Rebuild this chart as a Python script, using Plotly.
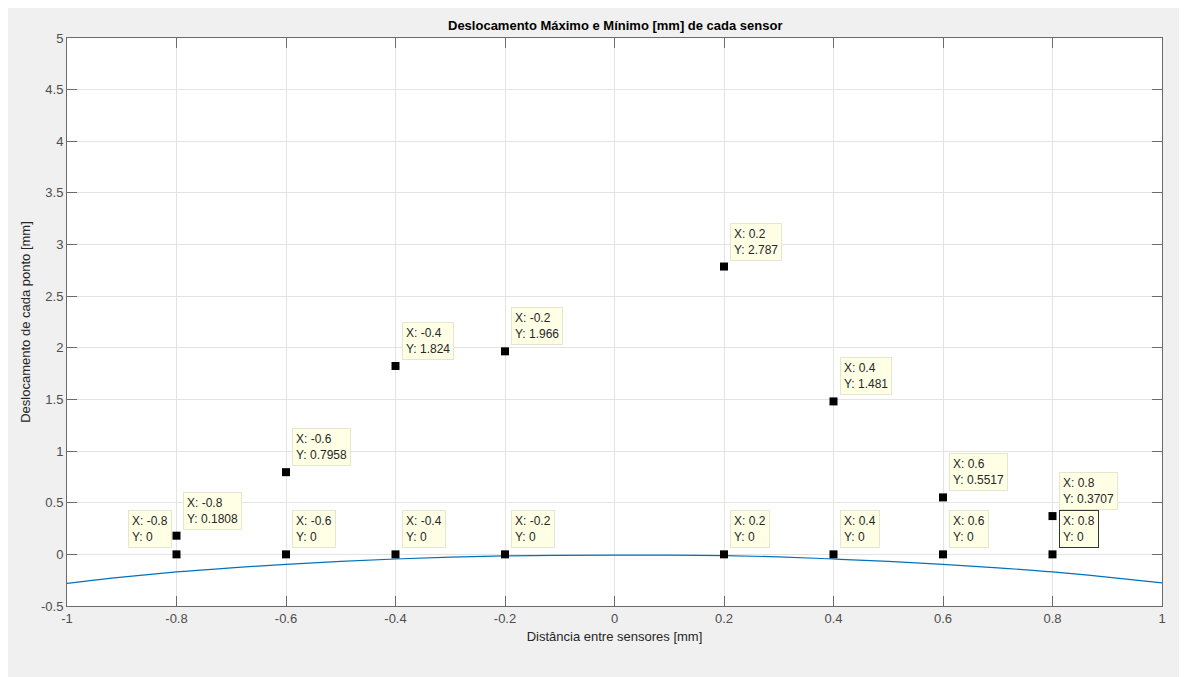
import plotly.graph_objects as go

# ---- data ----
sensor_x = [-0.8, -0.6, -0.4, -0.2, 0.2, 0.4, 0.6, 0.8]
max_disp = [0.1808, 0.7958, 1.824, 1.966, 2.787, 1.481, 0.5517, 0.3707]
min_disp = [0, 0, 0, 0, 0, 0, 0, 0]

curve_x = [-1.0, -0.9, -0.8, -0.7, -0.6, -0.5, -0.4, -0.3, -0.2, -0.1, 0.0,
           0.1, 0.2, 0.3, 0.4, 0.5, 0.6, 0.7, 0.8, 0.9, 1.0]
curve_y = [-0.28, -0.22, -0.17, -0.13, -0.096, -0.068, -0.045, -0.027, -0.015, -0.01, -0.008,
           -0.008, -0.012, -0.024, -0.045, -0.068, -0.096, -0.13, -0.17, -0.22, -0.276]

x_tickvals = [-1, -0.8, -0.6, -0.4, -0.2, 0, 0.2, 0.4, 0.6, 0.8, 1]
x_ticktext = ["-1", "-0.8", "-0.6", "-0.4", "-0.2", "0", "0.2", "0.4", "0.6", "0.8", "1"]
y_tickvals = [-0.5, 0, 0.5, 1, 1.5, 2, 2.5, 3, 3.5, 4, 4.5, 5]
y_ticktext = ["-0.5", "0", "0.5", "1", "1.5", "2", "2.5", "3", "3.5", "4", "4.5", "5"]

title = "Deslocamento Máximo e Mínimo [mm] de cada sensor"
xlabel = "Distância entre sensores [mm]"
ylabel = "Deslocamento de cada ponto [mm]"

FONT = "Arial, Liberation Sans, Helvetica, sans-serif"
AX = "#6b6b6b"
TXT = "#262626"

fig = go.Figure()
fig.add_trace(go.Scatter(x=curve_x, y=curve_y, mode="lines", line=dict(color="#0072BD", width=1.2),
                         line_shape="spline", hoverinfo="skip", showlegend=False))
fig.add_trace(go.Scatter(x=sensor_x, y=max_disp, mode="markers",
                         marker=dict(symbol="square", size=8, color="black", line=dict(width=0)),
                         showlegend=False))
fig.add_trace(go.Scatter(x=sensor_x, y=min_disp, mode="markers",
                         marker=dict(symbol="square", size=8, color="black", line=dict(width=0)),
                         showlegend=False))

def fmt(v):
    return ("%g" % v)

annotations = []
def tip(x, y, left=False, dark=False):
    annotations.append(dict(
        x=x, y=y, xref="x", yref="y", showarrow=False,
        text="X: %s<br>Y: %s" % (fmt(x), fmt(y)),
        xanchor="right" if left else "left", yanchor="bottom",
        xshift=-5 if left else 6, yshift=6, align="left",
        font=dict(family=FONT, size=12, color=TXT),
        bgcolor="#FFFFE6", bordercolor="#333333" if dark else "#E6E6CC",
        borderwidth=1, borderpad=3,
    ))

for xv, yv in zip(sensor_x, max_disp):
    tip(xv, yv)
for i, (xv, yv) in enumerate(zip(sensor_x, min_disp)):
    tip(xv, yv, left=(i == 0), dark=(i == len(sensor_x) - 1))

annotations.append(dict(text="<b>%s</b>" % title, x=0.5, y=1.0, xref="paper", yref="paper",
                        xanchor="center", yanchor="bottom", yshift=3, showarrow=False,
                        font=dict(family=FONT, size=13, color="#000000")))

# page body has an 8px margin; size the figure so the plot area lands where the reference has it
W, H = 1179, 669
L, R, T, B = 59, 25, 30, 71

axis_common = dict(showline=True, linecolor=AX, linewidth=1, mirror="ticks", ticks="inside",
                   ticklen=10, tickcolor=AX, tickwidth=1, showgrid=True, gridcolor="#E3E3E3",
                   gridwidth=1, zeroline=False, tickfont=dict(family=FONT, size=13, color="#4d4d4d"))

fig.update_layout(
    width=W, height=H,
    margin=dict(l=L, r=R, t=T, b=B),
    paper_bgcolor="#F0F0F0", plot_bgcolor="white",
    font=dict(family=FONT, size=13, color=TXT),
    showlegend=False,
    xaxis=dict(range=[-1, 1], tickmode="array", tickvals=x_tickvals, ticktext=x_ticktext,
               title=dict(text=xlabel, standoff=7, font=dict(family=FONT, size=13, color=TXT)),
               **axis_common),
    yaxis=dict(range=[-0.5, 5], tickmode="array", tickvals=y_tickvals, ticktext=y_ticktext,
               title=dict(text=ylabel, standoff=7, font=dict(family=FONT, size=13, color=TXT)),
               **axis_common),
    annotations=annotations,
)

fig.write_html("out.html")
